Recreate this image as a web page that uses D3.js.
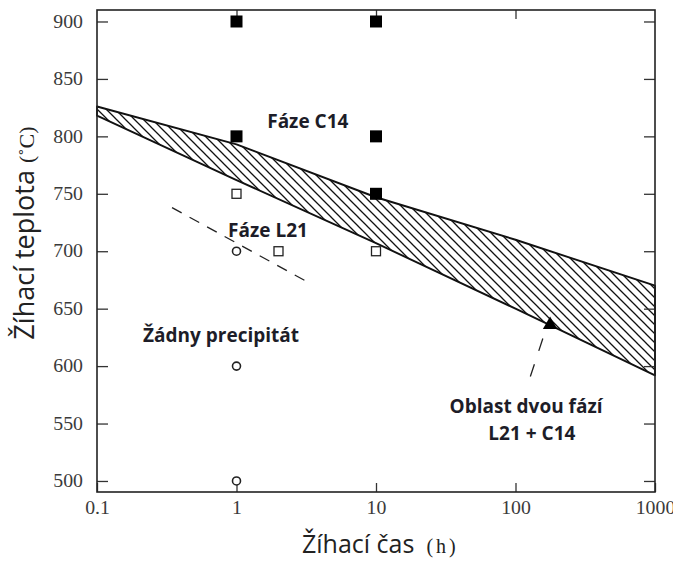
<!DOCTYPE html>
<html>
<head>
<meta charset="utf-8">
<script src="https://cdn.jsdelivr.net/npm/d3@7"></script>
<style>
  body { margin: 0; background: #fff; }
  svg { display: block; }
</style>
</head>
<body>
<div id="chart"></div>
<script>
// data
var xTicks = [0.1, 1, 10, 100, 1000];
var xTickLabels = ["0.1", "1", "10", "100", "1000"];
var yTicks = [500, 550, 600, 650, 700, 750, 800, 850, 900];

// hatched band (upper and lower boundaries)
var bandTime  = [0.1, 1, 10, 100, 1000];
var bandUpper = [826, 793, 747, 710, 670];
var bandLower = [818, 762, 707, 650, 592];

// markers
var c14Time = [1, 10, 1, 10, 10];
var c14Temp = [900, 900, 800, 800, 750];
var l21Time = [1, 2, 10];
var l21Temp = [750, 700, 700];
var noneTime = [1, 1, 1];
var noneTemp = [700, 600, 500];
var twoTime = [177];
var twoTemp = [636];

// dashed guide lines
var dash1Time = [0.345, 3.37];
var dash1Temp = [738, 672];
var dash2Time = [157, 127];
var dash2Temp = [624, 590];

// annotations
var noteText = ["Fáze C14", "Fáze L21", "Žádny precipitát", "Oblast dvou fází", "L21 + C14"];
var noteTime = [1.66, 0.87, 0.214, 119, 131];
var noteTemp = [807, 712, 621, 559, 536];
var noteAnchor = ["start", "start", "start", "middle", "middle"];

var W = 673, H = 561;
var margin = {top: 10, right: 18, bottom: 69, left: 97};
var width = W - margin.left - margin.right,
    height = H - margin.top - margin.bottom;

var svg = d3.select("#chart").append("svg")
            .attr("width", W)
            .attr("height", H)
            .append("g")
            .attr("transform", `translate(${margin.left},${margin.top})`);

var x = d3.scaleLog().domain([0.1, 1000]).range([0, width]);
var y = d3.scaleLinear().domain([490.4, 910]).range([height, 0]);

// hatch pattern
var defs = svg.append("defs");
defs.append("pattern")
    .attr("id", "hatch")
    .attr("patternUnits", "userSpaceOnUse")
    .attr("width", 9)
    .attr("height", 9)
    .append("path")
    .attr("d", "M0,0 L9,9 M-2,7 L2,11 M7,-2 L11,2")
    .attr("stroke", "#111")
    .attr("stroke-width", 1.3);

// band polygon
var bandPts = bandTime.map((t, i) => [x(t), y(bandUpper[i])])
  .concat(bandTime.map((t, i) => [x(t), y(bandLower[i])]).reverse());

svg.append("path")
   .attr("d", d3.line()(bandPts) + "Z")
   .attr("fill", "url(#hatch)")
   .attr("stroke", "#111")
   .attr("stroke-width", 1.9)
   .attr("stroke-linejoin", "round");

// dashed lines
var dashLine = d3.line().x(d => x(d[0])).y(d => y(d[1]));
[[dash1Time, dash1Temp, "11,9"], [dash2Time, dash2Temp, "13,14"]].forEach(function(p) {
  svg.append("path")
     .attr("d", dashLine(p[0].map((t, i) => [t, p[1][i]])))
     .attr("fill", "none")
     .attr("stroke", "#222")
     .attr("stroke-width", 1.3)
     .attr("stroke-dasharray", p[2]);
});

// axes (ticks inside)
var yAxis = d3.axisLeft(y).tickValues(yTicks).tickSize(-11).tickPadding(14);
var gy = svg.append("g").call(yAxis);
gy.select(".domain").remove();

var xAxis = d3.axisBottom(x).tickValues(xTicks)
              .tickFormat((d, i) => xTickLabels[i]).tickSize(-9).tickPadding(9);
var gx = svg.append("g").attr("transform", `translate(0,${height})`).call(xAxis);
gx.select(".domain").remove();

var gr = svg.append("g").attr("transform", `translate(${width},0)`)
            .call(d3.axisRight(y).tickValues(yTicks).tickSize(-11).tickFormat(""));
gr.select(".domain").remove();

var gt = svg.append("g")
            .call(d3.axisTop(x).tickValues([1, 10, 100]).tickSize(-9).tickFormat(""));
gt.select(".domain").remove();

svg.selectAll(".tick line").attr("stroke", "#333").attr("stroke-width", 1.3);
svg.selectAll(".tick text")
   .style("font-family", "'Liberation Serif', 'DejaVu Serif', serif")
   .style("font-size", "18px")
   .attr("fill", "#3a3a3a")
   .each(function() {
     // the reference glyphs are a little wider than Times
     var len = this.getComputedTextLength();
     if (len > 0) d3.select(this).attr("textLength", len * 1.1).attr("lengthAdjust", "spacingAndGlyphs");
   });

// frame
svg.append("rect")
   .attr("width", width).attr("height", height)
   .attr("fill", "none")
   .attr("stroke", "#222")
   .attr("stroke-width", 1.6);

// markers
svg.selectAll(".c14").data(c14Time).enter().append("rect")
   .attr("x", (d, i) => x(d) - 6).attr("y", (d, i) => y(c14Temp[i]) - 6)
   .attr("width", 12).attr("height", 12)
   .attr("fill", "#000");

svg.selectAll(".l21").data(l21Time).enter().append("rect")
   .attr("x", (d, i) => x(d) - 4.5).attr("y", (d, i) => y(l21Temp[i]) - 4.5)
   .attr("width", 9).attr("height", 9)
   .attr("fill", "#fff").attr("stroke", "#222").attr("stroke-width", 1.3);

svg.selectAll(".none").data(noneTime).enter().append("circle")
   .attr("cx", d => x(d)).attr("cy", (d, i) => y(noneTemp[i]))
   .attr("r", 4)
   .attr("fill", "#fff").attr("stroke", "#222").attr("stroke-width", 1.6);

svg.selectAll(".two").data(twoTime).enter().append("path")
   .attr("d", d3.symbol().type(d3.symbolTriangle).size(90))
   .attr("transform", (d, i) => `translate(${x(d)},${y(twoTemp[i])})`)
   .attr("fill", "#000");

// annotations
svg.selectAll(".note").data(noteText).enter().append("text")
   .attr("x", (d, i) => x(noteTime[i]))
   .attr("y", (d, i) => y(noteTemp[i]))
   .attr("text-anchor", (d, i) => noteAnchor[i])
   .style("font-family", "'Open Sans', sans-serif")
   .style("font-weight", "bold")
   .style("font-size", "19px")
   .attr("fill", "#1d1d28")
   .text(d => d);

// axis titles
var xt = svg.append("text")
   .attr("x", 302 - margin.left)
   .attr("y", height + 61)
   .attr("fill", "#222");
xt.append("tspan")
  .style("font-family", "'Open Sans', sans-serif").style("font-size", "25px")
  .text("Žíhací čas");
xt.append("tspan")
  .attr("dx", 12)
  .style("font-family", "'Liberation Serif', serif").style("font-size", "20px")
  .style("letter-spacing", "3px")
  .text("(h)");

var yt = svg.append("text")
   .attr("transform", `translate(${34 - margin.left},${233 - margin.top}) rotate(-90)`)
   .attr("text-anchor", "middle")
   .attr("fill", "#222");
yt.append("tspan")
  .style("font-family", "'Open Sans', sans-serif").style("font-size", "27px")
  .text("Žíhací teplota ");
yt.append("tspan")
  .style("font-family", "'Liberation Serif', serif").style("font-size", "22px")
  .text("(˚C)");
</script>
</body>
</html>
